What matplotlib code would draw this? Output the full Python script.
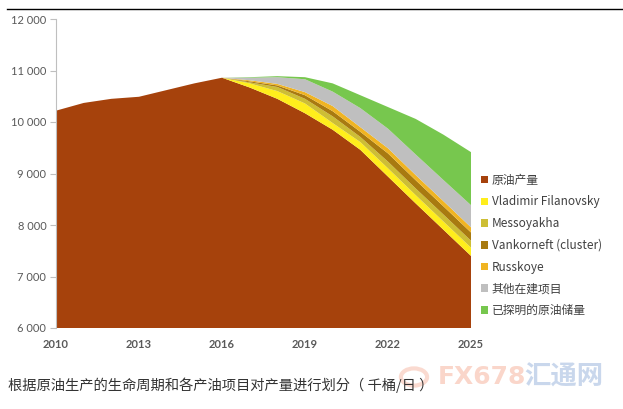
import matplotlib
matplotlib.use("Agg")
import matplotlib.pyplot as plt
from matplotlib.lines import Line2D
import numpy as np

plt.rcParams['font.family'] = ['Noto Sans CJK SC', 'DejaVu Sans']

years = np.arange(2010, 2026)

# thousand barrels per day
crude = [10220, 10370, 10450, 10490, 10620, 10750, 10860, 10670,
         10450, 10170, 9850, 9460, 8940, 8420, 7910, 7400]
filanovsky = [0, 0, 0, 0, 0, 0, 0, 80, 150, 190, 130, 150, 160, 160, 160, 160]
messoyakha = [0, 0, 0, 0, 0, 0, 0, 20, 80, 90, 130, 100, 130, 130, 135, 135]
vankorneft = [0, 0, 0, 0, 0, 0, 0, 20, 30, 70, 100, 100, 160, 160, 160, 160]
russkoye = [0, 0, 0, 0, 0, 0, 0, 20, 30, 60, 100, 90, 100, 100, 100, 100]
other_projects = [0, 0, 0, 0, 0, 0, 0, 50, 130, 250, 280, 370, 380, 400, 410, 430]
proven_reserves = [0, 0, 0, 0, 0, 0, 0, 10, 20, 40, 160, 250, 420, 690, 880, 1030]

labels = ['原油产量', 'Vladimir Filanovsky', 'Messoyakha', 'Vankorneft (cluster)',
          'Russkoye', '其他在建项目', '已探明的原油储量']
colors = ['#A6420C', '#FFEE1C', '#CDBE35', '#A87A10', '#F0B422', '#BFBFBF', '#77C74E']

x_ticks = [2010, 2013, 2016, 2019, 2022, 2025]
y_ticks = [6000, 7000, 8000, 9000, 10000, 11000, 12000]

fig = plt.figure(figsize=(6.23, 4.09), dpi=100)
ax = fig.add_axes([56 / 623, 1 - 328 / 409, (471 - 56) / 623, (328 - 19) / 409])

series = [crude, filanovsky, messoyakha, vankorneft, russkoye, other_projects, proven_reserves]
ax.stackplot(years, *series, labels=labels, colors=colors, linewidth=0)

ax.set_xlim(2010, 2025)
ax.set_ylim(6000, 12000)
ax.set_xticks(x_ticks)
ax.set_yticks(y_ticks)
ax.set_yticklabels([f"{v:,}".replace(",", " ") for v in y_ticks])
ax.set_xticklabels([str(v) for v in x_ticks])

for s in ['top', 'right', 'bottom']:
    ax.spines[s].set_visible(False)
ax.spines['left'].set_color('#BFBFBF')
ax.tick_params(axis='y', colors='#BFBFBF', labelcolor='#595959', length=4, width=0.8,
               labelsize=8, pad=3)
ax.tick_params(axis='x', length=0, labelcolor='#595959', labelsize=8, pad=8)
for t in ax.get_xticklabels() + ax.get_yticklabels():
    t.set_fontfamily(['Lato', 'DejaVu Sans'])
for t in ax.get_xticklabels():
    t.set_fontweight('bold')

leg = ax.legend(loc='upper left', bbox_to_anchor=(476 / 623, 1 - 169 / 409),
                bbox_transform=fig.transFigure, frameon=False, fontsize=8.5,
                handlelength=0.6, handleheight=0.6, handletextpad=0.35,
                labelspacing=0.74, borderaxespad=0)
for t in leg.get_texts():
    t.set_color('#404040')

# top rule line
fig.add_artist(Line2D([7 / 623, 1], [1 - 9 / 409, 1 - 9 / 409], color='black', linewidth=1))

fig.text(8 / 623, 1 - 385 / 409, '根据原油生产的生命周期和各产油项目对产量进行划分（ 千桶/日 ）',
         fontsize=10.3, color='#333333', va='center', ha='left')

# watermark
fig.patches.append(plt.Circle((414 / 623, 1 - 377 / 409), 0.021, transform=fig.transFigure,
                              fill=False, edgecolor='#F4A48A', linewidth=3, alpha=0.4))
fig.text(438 / 623, 1 - 377 / 409, 'FX678', fontsize=18, fontweight='bold',
         color='#F4A48A', alpha=0.45, va='center', ha='left', family=['DejaVu Sans'])
fig.text(524 / 623, 1 - 377 / 409, '汇通网', fontsize=19, fontweight='bold',
         color='#7A9CD0', alpha=0.4, va='center', ha='left')

fig.savefig('out.png', dpi=100)
